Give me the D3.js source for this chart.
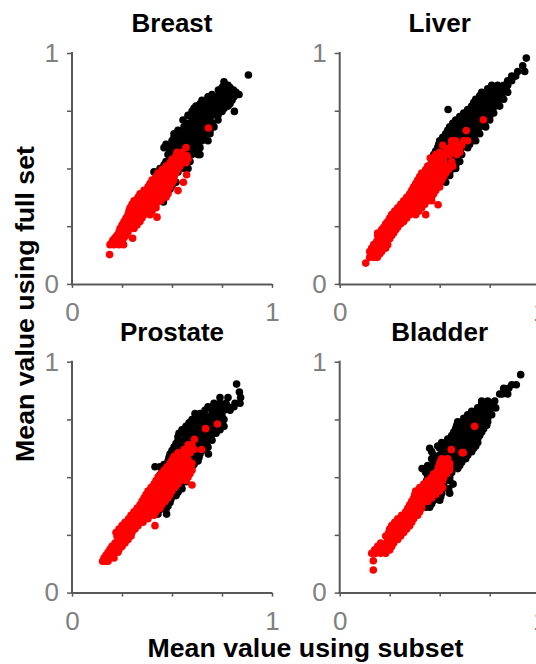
<!DOCTYPE html>
<html><head><meta charset="utf-8">
<script src="https://cdnjs.cloudflare.com/ajax/libs/d3/7.8.5/d3.min.js"></script>
<style>html,body{margin:0;padding:0;background:#fff;overflow:hidden}svg{display:block}</style>
</head><body><svg id="c" width="536" height="664"></svg>
<script>
// Each row: [mean value using full set, mean values using subset at that level...]
const breastBlack=[[.905,.882],[.875,.76],[.86,.76,.78],[.84,.732,.75,.78,.807],[.82,.70,.74,.77,.80,.835],[.795,.65,.695,.72,.75,.78,.80],[.77,.62,.66,.69,.72,.75,.78],[.747,.60,.63,.66,.69,.72,.75,.812],[.71,.555,.60,.63,.66,.69,.73],[.68,.56,.59,.62,.65,.68,.71],[.65,.51,.54,.57,.60,.63,.66,.69],[.62,.50,.53,.56,.59,.62,.65,.68],[.59,.46,.49,.52,.55,.58,.61,.64],[.56,.48,.51,.54,.57,.60,.63,.64],[.53,.47,.50,.53,.56,.59],[.50,.44,.47,.50,.53,.56,.58],[.485,.41,.44,.47,.50,.53],[.44,.43,.46,.49,.52],[.41,.40,.43,.46,.49],[.38,.39,.42,.45],[.355,.457],
[.85,.75,.77,.79],[.83,.74,.76,.79,.82],[.81,.68,.72,.75,.78,.81],[.78,.64,.67,.70,.73,.76,.79],[.76,.61,.64,.67,.70,.73,.76],[.73,.58,.61,.64,.67,.70,.73],[.695,.575,.61,.64,.67,.70],[.665,.53,.57,.60,.63,.66,.69],[.635,.51,.54,.57,.60,.63,.66],[.605,.47,.51,.54,.57,.60,.63],[.575,.49,.52,.55,.58,.61],[.545,.49,.52,.55,.58],[.515,.46,.49,.52,.55,.57],[.47,.45,.48,.51],[.425,.42,.45,.48,.50],[.395,.41,.44,.47]];
const breastRed=[[.127,.188],[.17,.19,.21,.235,.258],[.19,.205,.225,.25],[.198,.303],[.21,.225,.245,.27],[.24,.24,.26,.285,.31],[.27,.26,.285,.31,.34],[.289,.425],[.30,.28,.30,.33,.36,.39],[.33,.29,.31,.34,.37,.40,.42],[.36,.31,.34,.37,.40,.43,.445],[.39,.34,.37,.40,.43,.46,.48],[.404,.53],[.42,.38,.41,.44,.47,.49],[.44,.557],[.45,.40,.43,.46,.49,.51],[.473,.573],[.48,.43,.46,.49,.52],[.51,.47,.50,.53,.54],[.54,.50,.53,.56,.58],[.57,.525,.55],[.59,.57],[.675,.682],
[.18,.20,.22,.245],[.20,.215,.24,.26],[.225,.235,.26,.28],[.255,.25,.27,.30,.325],[.285,.27,.295,.32,.35],[.315,.285,.31,.34,.37,.40],[.345,.30,.33,.36,.39,.42],[.375,.33,.36,.39,.42,.45,.47],[.405,.36,.39,.42,.45,.48],[.435,.39,.42,.45,.48,.50],[.465,.42,.45,.48,.51],[.495,.45,.48,.51,.53],[.525,.49,.52,.55,.57],[.555,.52,.55,.575]];
const liverBlack=[[.978,.933],[.945,.915],[.92,.89,.925],[.90,.86,.88],[.88,.84,.86],[.86,.76,.79,.82,.84],[.83,.71,.75,.78,.81,.84],[.80,.68,.71,.74,.77,.80,.82],[.77,.66,.69,.72,.75,.78,.80],[.755,.542],[.74,.62,.65,.68,.71,.74,.77],[.71,.58,.61,.64,.67,.70,.73,.75],[.68,.55,.58,.61,.64,.67,.70,.73],[.65,.53,.56,.59,.62,.65,.68,.70],[.62,.50,.53,.56,.59,.62,.65,.68],[.59,.49,.52,.55,.58,.61,.64],[.56,.47,.50,.53,.56,.59,.61],[.53,.46,.49,.52,.55,.58,.60],[.50,.45,.48,.51,.54,.57,.58],[.47,.42,.45,.48,.51,.54,.55],[.44,.41,.44,.47,.50,.53],[.41,.39,.42,.45,.48],[.38,.37,.40,.43,.46],
[.845,.74,.77,.80,.83],[.815,.70,.73,.76,.79,.81],[.785,.67,.70,.73,.76,.79],[.755,.64,.67,.70,.73,.76],[.725,.60,.63,.66,.69,.72,.75],[.695,.565,.60,.63,.66,.69,.72],[.665,.54,.57,.60,.63,.66,.69],[.635,.515,.55,.58,.61,.64,.67],[.605,.495,.53,.56,.59,.62,.65],[.575,.48,.51,.54,.57,.60],[.545,.465,.50,.53,.56,.59],[.515,.455,.49,.52,.55,.58],[.485,.44,.47,.50,.53,.55],[.455,.42,.46,.49,.52],[.425,.40,.43,.46,.49]];
const liverRed=[[.09,.13],[.115,.15,.17,.188],[.14,.15,.17,.19,.21],[.17,.17,.19,.22,.24],[.195,.20,.22,.25],[.22,.19,.215,.24,.27],[.245,.22,.24,.27,.29],[.27,.24,.265,.29,.32],[.30,.26,.29,.32,.35,.38,.43],[.33,.29,.32,.35,.38,.41],[.343,.492],[.36,.32,.35,.38,.41,.44,.46],[.39,.35,.38,.41,.44,.47],[.42,.37,.40,.43,.46,.49,.50],[.45,.39,.42,.45,.48,.51],[.48,.41,.44,.47,.50,.53],[.51,.44,.47,.50,.53,.565],[.53,.46,.49,.52,.56],[.545,.453,.49,.52],[.57,.50,.53,.57,.60],[.60,.515,.56,.59,.61],[.62,.56,.58,.62,.64],[.664,.633],[.711,.718],
[.13,.155,.18,.20],[.155,.16,.18,.205,.23],[.185,.185,.21,.235],[.21,.19,.23,.26],[.235,.21,.23,.26,.28],[.26,.23,.25,.28,.305],[.285,.25,.275,.305,.335],[.315,.275,.305,.335,.365,.395],[.345,.305,.335,.365,.395,.425],[.375,.335,.365,.395,.425,.455],[.405,.36,.39,.42,.45,.48],[.435,.38,.41,.44,.47,.50],[.465,.40,.43,.46,.49,.52],[.495,.43,.46,.49,.52,.545],[.56,.48,.51,.55,.585],[.585,.54,.57,.60]];
const prostateBlack=[[.903,.823],[.869,.837],[.845,.74,.78,.843],[.82,.71,.74,.77,.815,.84],[.79,.665,.70,.73,.76,.79],[.775,.615,.64],[.75,.60,.63,.67,.70,.73,.76],[.72,.57,.60,.64,.67,.70,.73,.76],[.69,.535,.56,.60,.63,.66,.69,.72],[.66,.53,.56,.59,.62,.65,.68,.70],[.63,.51,.54,.57,.60,.63,.66,.68],[.60,.49,.52,.55,.58,.61,.64,.682],[.57,.48,.51,.54,.57,.60,.63],[.545,.415,.44,.47,.50,.53,.56,.60],[.51,.44,.47,.50,.53,.56,.58],[.48,.43,.46,.49,.52,.55,.57],[.45,.41,.44,.47,.50,.53,.55],[.42,.41,.44,.47,.50,.52],[.39,.40,.43,.46,.49],[.36,.38,.41,.44,.47],[.34,.37,.40,.43,.473],
[.805,.68,.72,.75,.78,.81],[.765,.63,.66,.69,.72,.75],[.735,.585,.62,.655,.685,.715,.745],[.705,.55,.58,.615,.65,.68,.71,.74],[.675,.53,.57,.60,.635,.665,.695],[.645,.52,.55,.58,.61,.64,.67],[.615,.50,.53,.56,.59,.62,.65],[.585,.485,.515,.545,.575,.605,.635],[.555,.46,.49,.52,.55,.58,.61],[.525,.45,.48,.51,.54,.57],[.495,.435,.465,.495,.525,.555],[.465,.42,.455,.485,.515,.545],[.435,.41,.44,.47,.50,.53],[.405,.405,.435,.465,.495],[.375,.39,.42,.45,.48]];
const prostateRed=[[.136,.153,.165,.18],[.15,.16,.18,.19,.21],[.175,.18,.20,.23],[.20,.20,.22,.25],[.23,.23,.25,.28],[.26,.22,.245,.27,.30],[.29,.25,.27,.30,.33,.415],[.32,.283,.31,.34,.38],[.35,.31,.34,.37,.40,.42],[.38,.34,.37,.40,.43,.45],[.41,.36,.39,.42,.45,.48],[.44,.38,.41,.44,.47,.50],[.466,.60],[.47,.41,.44,.47,.50,.53],[.50,.43,.46,.49,.52,.55,.58],[.53,.46,.49,.52,.55,.58,.60],[.56,.49,.52,.55,.58,.60],[.59,.51,.54,.56],[.62,.56,.585,.61,.648],[.64,.58,.60],[.664,.612],[.71,.668],[.73,.727],
[.162,.17,.19,.205],[.187,.19,.21,.235],[.215,.215,.235,.265],[.245,.225,.25,.275,.295],[.275,.235,.26,.285,.315],[.305,.265,.29,.32,.355],[.335,.295,.325,.355,.39,.41],[.365,.325,.355,.385,.415,.44],[.395,.35,.38,.41,.44,.465],[.425,.37,.40,.43,.46,.49],[.455,.395,.425,.455,.485,.515],[.485,.42,.45,.48,.51,.54,.57],[.515,.445,.475,.505,.535,.565,.59],[.545,.475,.505,.535,.565,.595],[.575,.50,.53,.56,.58],[.605,.53,.56,.59]];
const bladderBlack=[[.944,.905],[.90,.86,.883],[.885,.82,.845],[.86,.80,.813,.84],[.83,.71,.74,.775],[.80,.69,.72,.75,.78],[.77,.64,.67,.70,.73,.76],[.74,.59,.62,.65,.68,.71,.74],[.71,.58,.61,.64,.67,.70,.72],[.68,.56,.59,.62,.65,.68,.70],[.65,.51,.54,.57,.60,.63,.66,.69],[.625,.45,.50,.53,.56,.59,.62,.65,.67],[.595,.47,.50,.53,.56,.59,.62,.64],[.565,.47,.50,.53,.56,.59,.61],[.537,.412,.44,.47,.50,.53,.56,.59],[.50,.44,.47,.50,.53,.55],[.47,.43,.46,.49,.52,.567],[.43,.42,.45,.48,.51,.55],[.40,.41,.44,.47,.50],[.37,.40,.43,.45],
[.815,.71,.735,.765],[.785,.66,.69,.72,.75],[.755,.62,.65,.68,.71,.74],[.725,.585,.615,.645,.675,.705,.735],[.695,.57,.60,.63,.66,.69,.71],[.665,.54,.575,.605,.635,.665,.69],[.635,.49,.525,.555,.585,.615,.645,.68],[.61,.46,.515,.545,.575,.605,.635,.66],[.58,.46,.485,.515,.545,.575,.605,.63],[.55,.44,.485,.515,.545,.575,.60],[.52,.43,.455,.485,.515,.54,.56],[.485,.435,.465,.495,.525,.55],[.45,.425,.455,.485,.515,.545],[.415,.415,.445,.475,.505],[.385,.405,.435,.46]];
const bladderRed=[[.098,.168],[.138,.168],[.17,.16,.18,.205,.23],[.20,.19,.22,.25,.26],[.23,.24,.26,.29],[.26,.245,.27,.30,.32],[.29,.26,.29,.32,.35],[.32,.29,.32,.35,.37],[.35,.33,.36,.39,.40],[.38,.35,.38,.41],[.41,.37,.40,.43,.46],[.44,.38,.41,.44,.47,.50],[.47,.42,.45,.48,.50],[.50,.46,.49,.52],[.53,.49,.52,.55],[.56,.50,.53,.55],[.58,.51,.54],[.606,.618,.612],[.619,.558],[.72,.675],
[.185,.175,.20,.225,.25],[.215,.205,.235,.27],[.245,.23,.26,.29,.305],[.275,.25,.28,.31,.335],[.305,.275,.305,.335,.36],[.335,.31,.34,.37,.39],[.365,.34,.37,.40,.41],[.395,.36,.39,.42,.44],[.425,.375,.405,.435,.465,.48],[.455,.40,.43,.46,.49,.515],[.485,.44,.47,.50,.515],[.515,.47,.50,.535],[.545,.495,.525,.55],[.57,.505,.535]];
const titles=["Breast","Liver","Prostate","Bladder"];
const blackSeries=[breastBlack,liverBlack,prostateBlack,bladderBlack];
const redSeries=[breastRed,liverRed,prostateRed,bladderRed];
const tickValues=[0,.25,.5,.75,1];
const xLabel="Mean value using subset";
const yLabel="Mean value using full set";

const svg=d3.select("#c");
const font="'Liberation Sans',Arial,sans-serif";
const lefts=[72,339.7],tops=[53,361.7],W=200,H=230.9;
const expand=rows=>rows.flatMap(r=>r.slice(1).map(x=>[x,r[0]]));
titles.forEach((t,i)=>{
  const ox=lefts[i%2],oy=tops[i>>1];
  const x=d3.scaleLinear().domain([0,1]).range([ox,ox+W]);
  const y=d3.scaleLinear().domain([0,1]).range([oy+H,oy]);
  const lab=d=>(d===0||d===1)?String(d):"";
  const ga=svg.append("g").attr("transform",`translate(0,${oy+H})`)
    .call(d3.axisBottom(x).tickValues(tickValues).tickFormat(lab).tickSize(4).tickPadding(15));
  const gb=svg.append("g").attr("transform",`translate(${ox},0)`)
    .call(d3.axisLeft(y).tickValues(tickValues).tickFormat(lab).tickSize(5).tickPadding(8));
  [ga,gb].forEach(g=>{
    g.selectAll("path").attr("stroke","#595959").attr("stroke-width",2);
    g.selectAll("line").attr("stroke","#595959").attr("stroke-width",1.5);
    g.selectAll("text").attr("fill","#808080").style("font",`26px ${font}`);
  });
  ga.select("path").attr("d",`M${ox-1},0.5H${ox+W}`);
  gb.select("path").attr("d",`M0,${oy-1}V${oy+H+1}`);
  [[blackSeries[i],"#000"],[redSeries[i],"#f00"]].forEach(([rows,col])=>{
    svg.append("g").selectAll("circle").data(expand(rows)).join("circle")
      .attr("cx",d=>x(d[0])).attr("cy",d=>y(d[1])).attr("r",3.8).attr("fill",col);
  });
  svg.append("text").attr("x",ox+W/2).attr("y",oy-21).attr("text-anchor","middle")
    .style("font",`bold 26px ${font}`).attr("fill","#000").text(t);
});
svg.append("text").attr("x",305.5).attr("y",657).attr("text-anchor","middle")
  .style("font",`bold 26.7px ${font}`).text(xLabel);
svg.append("text").attr("transform","translate(34,304) rotate(-90)").attr("text-anchor","middle")
  .style("font",`bold 26.7px ${font}`).text(yLabel);
</script></body></html>
